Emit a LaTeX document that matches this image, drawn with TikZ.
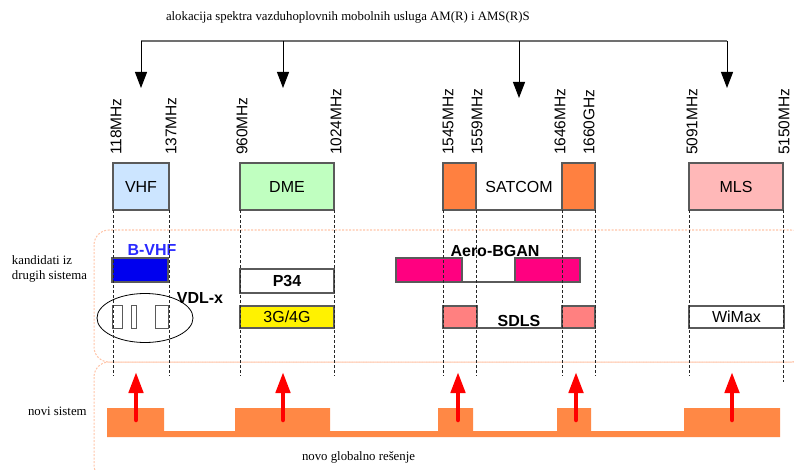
\documentclass[tikz,border=0pt]{standalone}
\usepackage{fontspec}
\setmainfont{Liberation Serif}
\setsansfont{Liberation Sans}
\usetikzlibrary{arrows.meta}

\definecolor{edgegray}{HTML}{5A5A5A}
\definecolor{vhfblue}{HTML}{CCE5FF}
\definecolor{dmegreen}{HTML}{C0FFC0}
\definecolor{satorange}{HTML}{FF8040}
\definecolor{mlspink}{HTML}{FFB8B8}
\definecolor{bvhffill}{HTML}{0000EE}
\definecolor{bvhftext}{HTML}{2A2AFF}
\definecolor{bganpink}{HTML}{FF0080}
\definecolor{sdlsred}{HTML}{FF8080}
\definecolor{barorange}{HTML}{FF8845}
\definecolor{zoneline}{HTML}{FFC4A8}
\definecolor{bargray}{HTML}{707070}

\begin{document}
\begin{tikzpicture}[x=1pt,y=-1pt,
  every node/.style={inner sep=0pt,outer sep=0pt},
  band/.style={draw=edgegray,line width=1.1pt,anchor=north west,
    font=\fontsize{16}{18}\selectfont\sffamily},
  freq/.style={rotate=90,anchor=west,font=\fontsize{15.5}{16}\selectfont\sffamily},
  cand/.style={font=\fontsize{16}{18}\selectfont\sffamily\bfseries},
  serif/.style={font=\fontsize{12.8}{15}\selectfont,anchor=base west,align=left},
  guide/.style={densely dashed,line width=0.8pt,black!85},
  zone/.style={draw=zoneline,line width=1pt,dash pattern=on 2pt off 1.5pt,rounded corners=15pt},
  feed/.style={line width=1pt,-{Triangle[length=16pt,width=12pt]}},
  lift/.style={red,line width=4.5pt,line cap=round,-{Triangle[length=21pt,width=14pt]}}]
\useasboundingbox (0,0) rectangle (794,470);

% candidate zone and new-system zone
\draw[zone] (94,230) rectangle (806,362);
\draw[zone] (94,362) rectangle (806,480);

% new global solution (stepped bar)
\fill[barorange] (107,408) -- (164,408) -- (164,431) -- (235,431) -- (235,408)
  -- (330,408) -- (330,431) -- (438,431) -- (438,408) -- (473,408) -- (473,431)
  -- (557,431) -- (557,408) -- (591,408) -- (591,431) -- (684,431) -- (684,408)
  -- (780,408) -- (780,437) -- (107,437) -- cycle;

% title and feeding arrows
\node[serif] (ttl) at (166,21) {alokacija spektra vazduhoplovnih mobolnih usluga AM(R) i AMS(R)S};
\coordinate (b1) at (141,41);
\coordinate (b2) at (283,41);
\coordinate (b3) at (519,41);
\coordinate (b4) at (727,41);
\coordinate (t1) at (141,88);
\coordinate (t2) at (283,88);
\coordinate (t3) at (519,98);
\coordinate (t4) at (727,88);
\draw[bargray,line width=1.2pt] (b1) -- (b4);
\draw[feed] (b1) -- (t1);
\draw[feed] (b2) -- (t2);
\draw[feed] (b3) -- (t3);
\draw[feed] (b4) -- (t4);

% frequency limits
\node[freq] (f1) at (116,155) {118MHz};
\node[freq] (f2) at (171,155) {137MHz};
\node[freq] (f3) at (242,155) {960MHz};
\node[freq] (f4) at (336,155) {1024MHz};
\node[freq] (f5) at (448,155) {1545MHz};
\node[freq] (f6) at (477,155) {1559MHz};
\node[freq] (f7) at (560,155) {1646MHz};
\node[freq] (f8) at (589,155) {1660GHz};
\node[freq] (f9) at (692,155) {5091MHz};
\node[freq] (f10) at (784,155) {5150MHz};

% allocated bands
\node[band,fill=vhfblue,minimum width=56pt,minimum height=47pt] (vhf) at (113,163) {VHF};
\node[band,fill=dmegreen,minimum width=94pt,minimum height=47pt] (dme) at (240,163) {DME};
\node[band,fill=satorange,minimum width=33pt,minimum height=47pt] (sat1) at (443,163) {};
\node[band,fill=satorange,minimum width=33pt,minimum height=47pt] (sat2) at (562,163) {};
\draw[edgegray,line width=1.1pt] (sat1.south east) -- (sat2.south west);
\node[font=\fontsize{16}{18}\selectfont\sffamily] (satlbl) at (519,187) {SATCOM};
\node[band,fill=mlspink,minimum width=94pt,minimum height=47pt] (mls) at (689,163) {MLS};

% candidates from other systems
\node[serif] (candlbl) at (12,279) {kandidati iz\\drugih sistema};
\node[cand,text=bvhftext] (bvhflbl) at (152,250) {B-VHF};
\node[band,fill=bvhffill,minimum width=56pt,minimum height=24pt] (bvhf) at (112,258) {};
\node[band,fill=white,minimum width=94pt,minimum height=24pt,font=\fontsize{16}{18}\selectfont\sffamily\bfseries] (p34) at (240,269) {P34};
\node[band,fill=yellow,minimum width=94pt,minimum height=22pt] (g34) at (240,306) {3G/4G};
\node[band,fill=bganpink,minimum width=66pt,minimum height=24pt] (bgan1) at (396,258) {};
\node[band,fill=bganpink,minimum width=65pt,minimum height=24pt] (bgan2) at (515,258) {};
\draw[edgegray,line width=1.1pt] (bgan1.south east) -- (bgan2.south west);
\node[cand] (bganlbl) at (495,251) {Aero-BGAN};
\node[band,fill=sdlsred,minimum width=34pt,minimum height=22pt] (sdls1) at (443,306) {};
\node[band,fill=sdlsred,minimum width=33pt,minimum height=22pt] (sdls2) at (562,306) {};
\draw[edgegray,line width=1.1pt] (sdls1.south east) -- (sdls2.south west);
\node[cand] (sdlslbl) at (519,321) {SDLS};
\node[band,fill=white,minimum width=95pt,minimum height=22pt] (wimax) at (689,306) {WiMax};

% VDL-x channels
\node[band,fill=white,line width=0.9pt,minimum width=10pt,minimum height=23pt] (ch1) at (112,305) {};
\node[band,fill=white,line width=0.9pt,minimum width=5pt,minimum height=23pt] (ch2) at (131,305) {};
\node[band,fill=white,line width=0.9pt,minimum width=13pt,minimum height=23pt] (ch3) at (155,305) {};
\draw[line width=0.8pt] (145,318) ellipse [x radius=48, y radius=24.5];
\node[cand] (vdllbl) at (200,298) {VDL-x};

% band edges carried down
\coordinate (e1) at (113,376);
\coordinate (e2) at (169,376);
\coordinate (e3) at (240,376);
\coordinate (e4) at (334,376);
\coordinate (e5) at (443,376);
\coordinate (e6) at (476,376);
\coordinate (e7) at (562,376);
\coordinate (e8) at (595,376);
\coordinate (e9) at (689,376);
\coordinate (e10) at (783,382);
\draw[guide] (vhf.south west) -- (e1);
\draw[guide] (vhf.south east) -- (e2);
\draw[guide] (dme.south west) -- (e3);
\draw[guide] (dme.south east) -- (e4);
\draw[guide] (sat1.south west) -- (e5);
\draw[guide] (sat1.south east) -- (e6);
\draw[guide] (sat2.south west) -- (e7);
\draw[guide] (sat2.south east) -- (e8);
\draw[guide] (mls.south west) -- (e9);
\draw[guide] (mls.south east) -- (e10);

% new system
\node[serif] (novilbl) at (28,415) {novi sistem};
\node[serif] (globlbl) at (302,460) {novo globalno rešenje};
\coordinate (r1) at (136,420);  \coordinate (q1) at (136,372);
\coordinate (r2) at (283,420);  \coordinate (q2) at (283,372);
\coordinate (r3) at (458,420);  \coordinate (q3) at (458,372);
\coordinate (r4) at (576,420);  \coordinate (q4) at (576,372);
\coordinate (r5) at (732,420);  \coordinate (q5) at (732,372);
\draw[lift] (r1) -- (q1);
\draw[lift] (r2) -- (q2);
\draw[lift] (r3) -- (q3);
\draw[lift] (r4) -- (q4);
\draw[lift] (r5) -- (q5);
\end{tikzpicture}
\end{document}
